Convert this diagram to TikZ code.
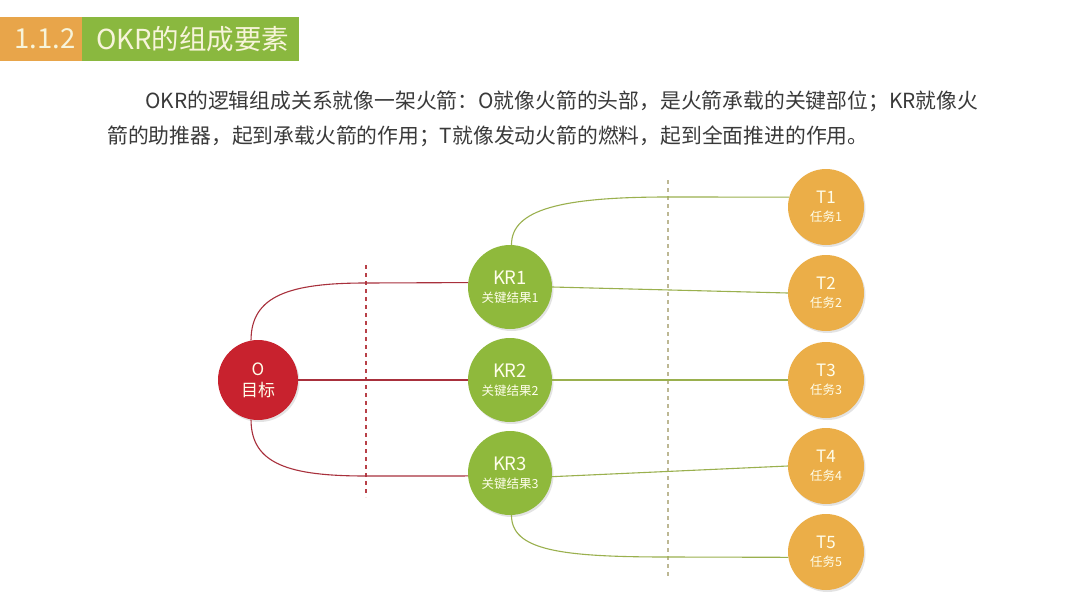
\documentclass[tikz,border=0pt]{standalone}
\usepackage{fontspec}
\setmainfont{Noto Sans CJK SC}
\usetikzlibrary{shadows}
\definecolor{hdrorange}{HTML}{E8A54A}
\definecolor{hdrgreen}{HTML}{8AB83F}
\definecolor{hdrtext}{HTML}{F7F4DA}
\definecolor{bodytext}{HTML}{3A3A3A}
\definecolor{ored}{HTML}{C8222E}
\definecolor{kgreen}{HTML}{8FB93C}
\definecolor{torange}{HTML}{EBAE48}
\definecolor{redline}{HTML}{A8303C}
\definecolor{greenline}{HTML}{9AB04E}
\definecolor{reddash}{HTML}{B84048}
\definecolor{greendash}{HTML}{BDB894}
\tikzset{
  circ/.style={circle, inner sep=0pt, align=center, text=white!92!yellow,
    drop shadow={opacity=0.22, shadow xshift=1.5pt, shadow yshift=-2pt}},
  onode/.style={circ, fill=ored, minimum size=80pt, font=\fontsize{17}{21}\selectfont},
  krnode/.style={circ, fill=kgreen, minimum size=84pt, font=\fontsize{12.5}{18.5}\selectfont},
  tnode/.style={circ, fill=torange, minimum size=76pt, font=\fontsize{12.5}{18}\selectfont},
  redconn/.style={draw=redline, line width=1.1pt},
  greenconn/.style={draw=greenline, line width=1.1pt},
  rdash/.style={draw=reddash, line width=1.1pt, dash pattern=on 4pt off 4pt},
  gdash/.style={draw=greendash, line width=1.1pt, dash pattern=on 4pt off 4pt},
  hdr/.style={font=\fontsize{27.5}{30}\selectfont, text=hdrtext, anchor=west, inner sep=0pt},
  para/.style={font=\fontsize{20.8}{24}\selectfont, text=bodytext, anchor=base west, inner sep=0pt}
}
\newcommand{\twoline}[2]{{\fontsize{17}{18}\selectfont #1}\\#2}
\newcommand{\krline}[2]{{\fontsize{18.5}{18}\selectfont #1}\\#2}
\begin{document}
\begin{tikzpicture}[x=1pt,y=-1pt]
\useasboundingbox[fill=white] (0,0) rectangle (1080,608);
% header
\fill[hdrorange] (0,17) rectangle (82,61);
\fill[hdrgreen] (82,17) rectangle (299,61);
\node[hdr] (hnum) at (14,39) {1.1.2};
\node[hdr] (htitle) at (96,39) {OKR的组成要素};
% paragraph
\node[para] (p1) at (145,108) {OKR的逻辑组成关系就像一架火箭：O就像火箭的头部，是火箭承载的关键部位；KR就像火};
\node[para] (p2) at (107,143) {箭的助推器，起到承载火箭的作用；T就像发动火箭的燃料，起到全面推进的作用。};
% dashed separators
\coordinate (rd1) at (366,265);
\coordinate (rd2) at (366,497);
\coordinate (gd1) at (668,180);
\coordinate (gd2) at (668,578);
\draw[rdash] (rd1) -- (rd2);
\draw[gdash] (gd1) -- (gd2);
% nodes
\node[onode] (O) at (258,380) {O\\目标};
\node[krnode] (KR1) at (510,287) {\krline{KR1}{关键结果1}};
\node[krnode] (KR2) at (510,380) {\krline{KR2}{关键结果2}};
\node[krnode] (KR3) at (510,473) {\krline{KR3}{关键结果3}};
\node[tnode] (T1) at (826,207) {\twoline{T1}{任务1}};
\node[tnode] (T2) at (826,293) {\twoline{T2}{任务2}};
\node[tnode] (T3) at (826,380) {\twoline{T3}{任务3}};
\node[tnode] (T4) at (826,466) {\twoline{T4}{任务4}};
\node[tnode] (T5) at (826,552) {\twoline{T5}{任务5}};
% connectors
\coordinate (r1) at (366,283);
\coordinate (r3) at (366,476);
\coordinate (g1) at (668,197);
\coordinate (g5) at (668,557);
\draw[redconn] (O.100) .. controls ++(0,-45) and (290,283) .. (r1) -- (KR1.174);
\draw[redconn] (O.east) -- (KR2.west);
\draw[redconn] (O.260) .. controls ++(0,45) and (290,476) .. (r3) -- (KR3.184);
\draw[greenconn] (KR1.88) .. controls ++(0,-35) and (560,197) .. (g1) -- (T1.165);
\draw[greenconn] (KR1.east) -- (T2.west);
\draw[greenconn] (KR2.east) -- (T3.west);
\draw[greenconn] (KR3.355) -- (T4.west);
\draw[greenconn] (KR3.272) .. controls ++(0,35) and (560,557) .. (g5) -- (T5.188);
\end{tikzpicture}
\end{document}
